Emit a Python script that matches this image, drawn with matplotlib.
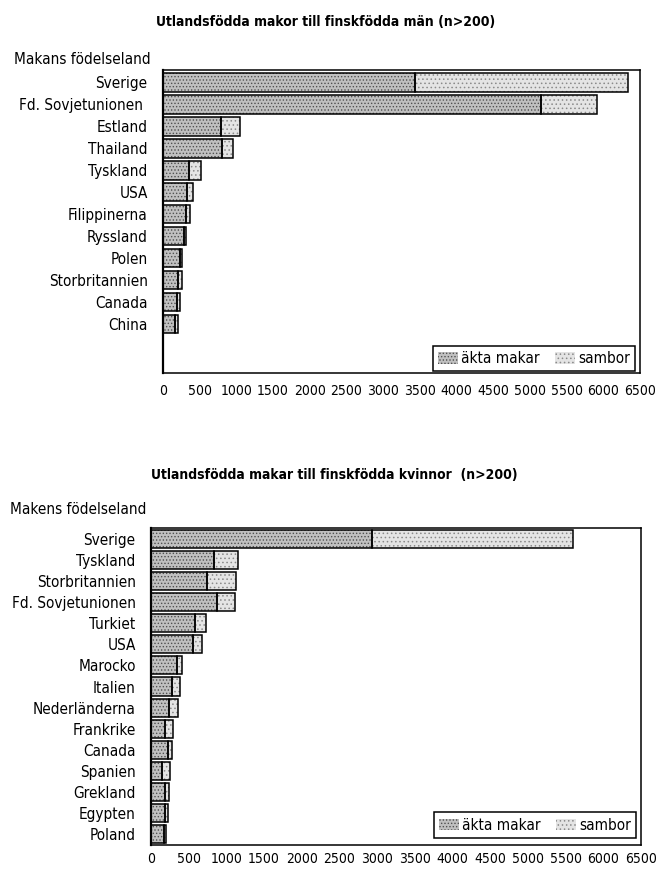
import numpy as np
import matplotlib.pyplot as plt
from matplotlib.patches import Patch

plt.rcParams['font.family'] = ['DejaVu Sans']
plt.rcParams['font.stretch'] = 'condensed'
plt.rcParams['hatch.linewidth'] = 0.6

# Utlandsfödda makor till finskfödda män
men_countries = ["Sverige", "Fd. Sovjetunionen ", "Estland", "Thailand", "Tyskland", "USA",
                 "Filippinerna", "Ryssland", "Polen", "Storbritannien", "Canada", "China"]
men_akta = [3430, 5150, 790, 810, 360, 330, 315, 280, 225, 200, 185, 170]
men_sambor = [2900, 760, 260, 150, 160, 85, 50, 35, 40, 65, 45, 30]

# Utlandsfödda makar till finskfödda kvinnor
women_countries = ["Sverige", "Tyskland", "Storbritannien", "Fd. Sovjetunionen", "Turkiet", "USA",
                   "Marocko", "Italien", "Nederländerna", "Frankrike", "Canada", "Spanien",
                   "Grekland", "Egypten", "Poland"]
women_akta = [2930, 830, 740, 880, 585, 560, 345, 275, 245, 185, 220, 140, 185, 185, 175]
women_sambor = [2670, 325, 385, 235, 140, 120, 70, 115, 110, 110, 65, 110, 55, 45, 30]

xticks = np.arange(0, 7000, 500)

W, H = 656, 872
fig = plt.figure(figsize=(W / 100, H / 100), dpi=100)

akta_style = dict(facecolor='#c0c0c0', hatch='.....', edgecolor='#505050')
sambor_style = dict(facecolor='#e4e4e4', hatch='....', edgecolor='#8a8a8a')


def px_axes(left, top, right, bottom):
    return fig.add_axes([left / W, 1 - bottom / H, (right - left) / W, (bottom - top) / H])


def draw_panel(ax, countries, akta, sambor, ylim, legend_anchor, xpad):
    y = np.arange(len(countries))
    akta = np.array(akta)
    sambor = np.array(sambor)
    ax.barh(y, akta, height=0.86, linewidth=0, **akta_style)
    ax.barh(y, sambor, left=akta, height=0.86, linewidth=0, **sambor_style)
    # black outlines on top of the stipple
    ax.barh(y, akta, height=0.86, fill=False, edgecolor='black', linewidth=1.1)
    ax.barh(y, sambor, left=akta, height=0.86, fill=False, edgecolor='black', linewidth=1.1)
    ax.set_xlim(0, 6500)
    ax.set_ylim(*ylim)
    ax.set_yticks(y)
    ax.set_yticklabels(countries, fontsize=11)
    ax.set_xticks(xticks)
    ax.set_xticklabels([str(v) for v in xticks], fontsize=10)
    ax.tick_params(axis='both', length=0)
    ax.tick_params(axis='y', pad=11)
    ax.tick_params(axis='x', pad=xpad)
    for s in ax.spines.values():
        s.set_linewidth(1.1)
    ax.spines['left'].set_linewidth(1.6)
    handles = [Patch(linewidth=0, **akta_style), Patch(linewidth=0, **sambor_style)]
    ax.legend(handles, ['äkta makar', 'sambor'], ncol=2, loc='lower right',
              bbox_to_anchor=legend_anchor, borderaxespad=0, fontsize=11,
              frameon=True, fancybox=False, edgecolor='black', framealpha=1,
              handlelength=1.3, handleheight=0.8, handletextpad=0.2,
              columnspacing=1.0, borderpad=0.35)
    ax.get_legend().get_frame().set_linewidth(1.1)


ax1 = px_axes(163, 70, 640, 373)
draw_panel(ax1, men_countries, men_akta, men_sambor, (13.23, -0.55), (0.99, 0.005), 8)

ax2 = px_axes(151, 528, 641, 845)
draw_panel(ax2, women_countries, women_akta, women_sambor, (14.52, -0.52), (0.99, 0.022), 5)

fig.text(326 / W, 1 - 22 / H, "Utlandsfödda makor till finskfödda män (n>200)",
         ha='center', va='center', fontsize=10, fontweight='bold')
fig.text(334 / W, 1 - 475 / H, "Utlandsfödda makar till finskfödda kvinnor  (n>200)",
         ha='center', va='center', fontsize=10, fontweight='bold')
fig.text(14 / W, 1 - 59 / H, "Makans födelseland", ha='left', va='center', fontsize=11)
fig.text(10 / W, 1 - 509 / H, "Makens födelseland", ha='left', va='center', fontsize=11)

fig.savefig("out.png", dpi=100)
